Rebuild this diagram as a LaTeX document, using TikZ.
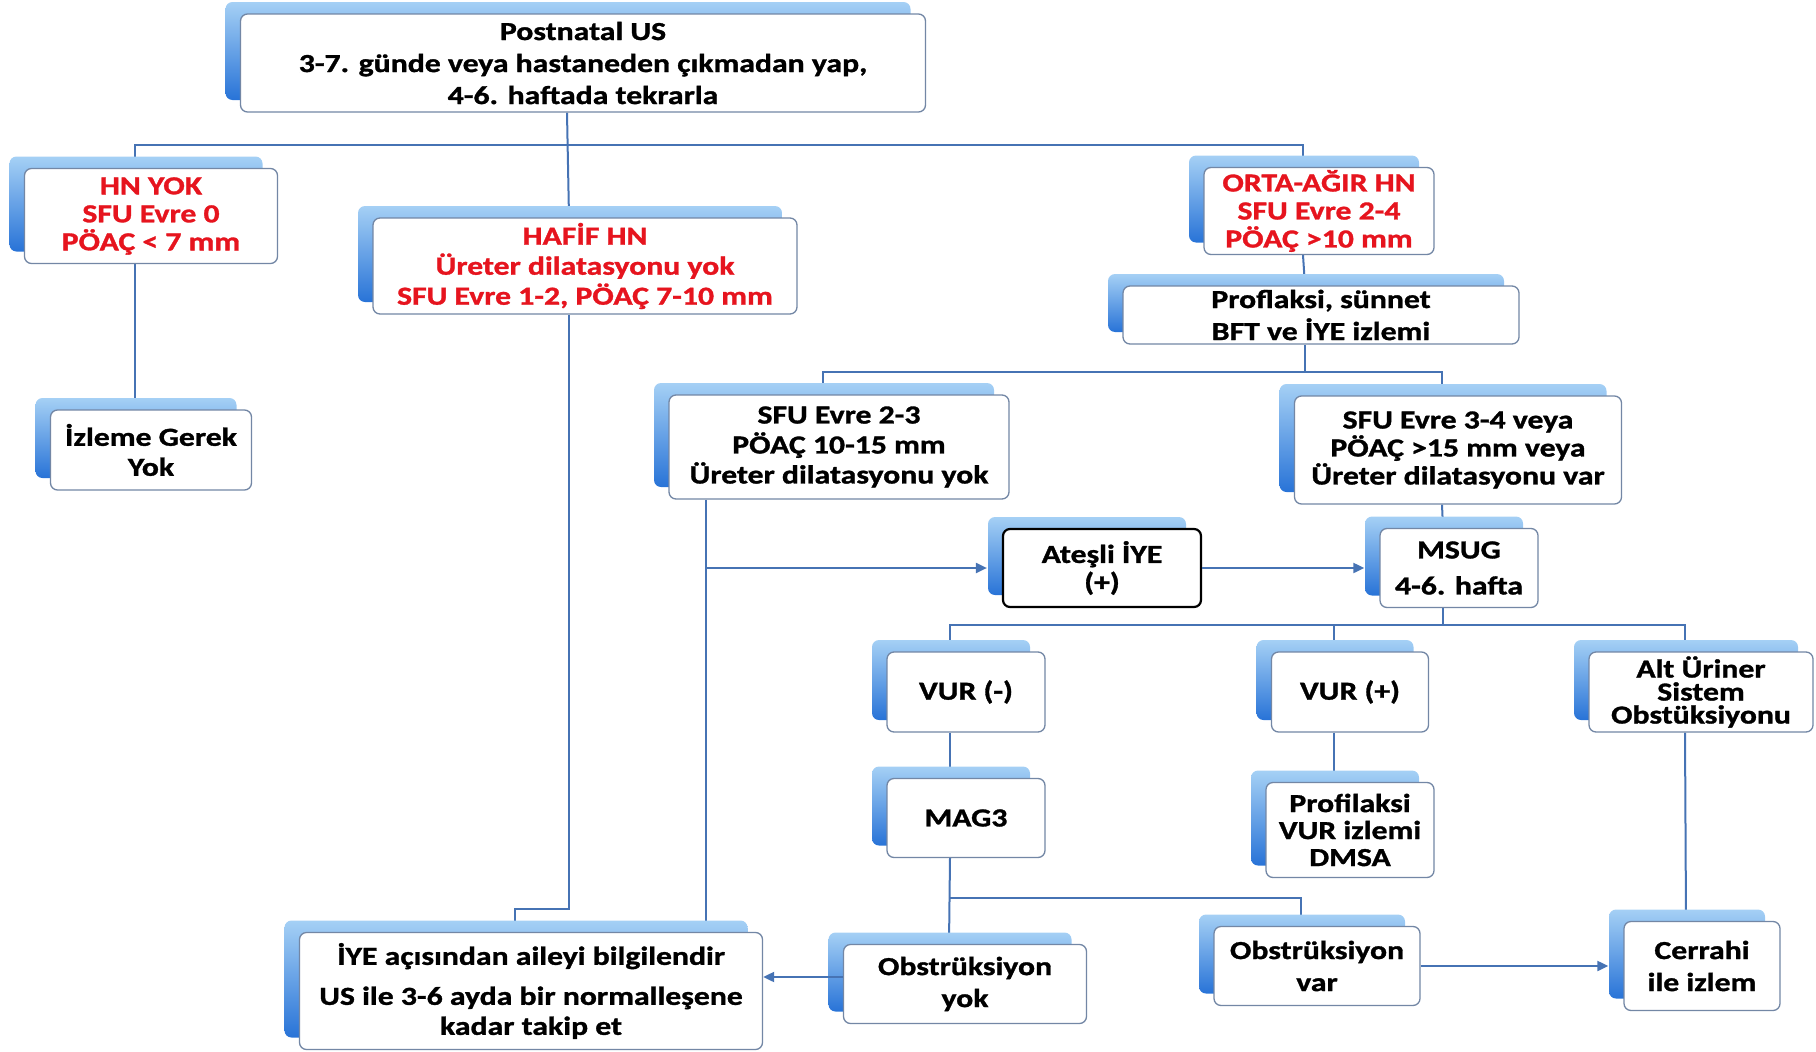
\documentclass[tikz,border=0pt]{standalone}
\usepackage{fontspec}
\setmainfont{Carlito}[FakeStretch=1.22,BoldFeatures={FakeBold=1.2}]
\usetikzlibrary{arrows.meta,shadows,backgrounds}
\definecolor{linkblue}{RGB}{70,115,180}
\definecolor{boxline}{RGB}{115,135,165}
\definecolor{tabtop}{RGB}{165,208,245}
\definecolor{tabbot}{RGB}{40,115,215}
\definecolor{hnred}{RGB}{230,20,30}

\tikzset{
  box/.style={draw=boxline, line width=1.3pt, fill=white, rounded corners=7pt,
    align=center, inner sep=0pt, font=\bfseries\fontsize{26}{28}\selectfont,
    general shadow={shadow xshift=-15pt, shadow yshift=12pt,
      top color=tabtop, bottom color=tabbot}},
  redbox/.style={box, text=hnred},
  blackbox/.style={box, draw=black, line width=2.2pt},
  sz/.style 2 args={minimum width=#1pt, minimum height=#2pt},
  link/.style={draw=linkblue, line width=2pt},
  arr/.style={link, -{Triangle[length=11pt,width=10pt]}},
}

\begin{document}
\begin{tikzpicture}[x=1pt,y=-1pt]
  \useasboundingbox (0,0) rectangle (1816,1052);

  \node[box,sz={685}{98},font=\bfseries\fontsize{26}{32}\selectfont] (post) at (583,63)
    {Postnatal US\\3-7. günde veya hastaneden çıkmadan yap,\\4-6. haftada tekrarla};
  \node[redbox,sz={253}{95}] (hnyok) at (151,216) {HN YOK\\SFU Evre 0\\PÖAÇ < 7 mm};
  \node[redbox,sz={424}{96},font=\bfseries\fontsize{26}{30}\selectfont] (hafif) at (585,266)
    {HAFİF HN\\Üreter dilatasyonu yok\\SFU Evre 1-2, PÖAÇ 7-10 mm};
  \node[redbox,sz={230}{87}] (orta) at (1319,211) {ORTA-AĞIR HN\\SFU Evre 2-4\\PÖAÇ >10 mm};
  \node[box,sz={396}{58},font=\bfseries\fontsize{26}{32}\selectfont] (prof) at (1321,315)
    {Proflaksi, sünnet\\BFT ve İYE izlemi};
  \node[box,sz={201}{80},font=\bfseries\fontsize{26}{30}\selectfont] (izleme) at (151,450)
    {İzleme Gerek\\Yok};
  \node[box,sz={340}{104},font=\bfseries\fontsize{26}{30}\selectfont] (sfu23) at (839,447)
    {SFU Evre 2-3\\PÖAÇ 10-15 mm\\Üreter dilatasyonu yok};
  \node[box,sz={327}{108},font=\bfseries\fontsize{26}{28}\selectfont] (sfu34) at (1458,450)
    {SFU Evre 3-4 veya\\PÖAÇ >15 mm veya\\Üreter dilatasyonu var};
  \node[blackbox,sz={198}{78}] (atesli) at (1102,568) {Ateşli İYE\\(+)};
  \node[box,sz={158}{79},font=\bfseries\fontsize{26}{36}\selectfont] (msug) at (1459,568)
    {MSUG\\4-6. hafta};
  \node[box,sz={158}{80}] (vurneg) at (966,692) {VUR (-)};
  \node[box,sz={157}{80}] (vurpos) at (1350,692) {VUR (+)};
  \node[box,sz={224}{80},font=\bfseries\fontsize{26}{23}\selectfont] (alt) at (1701,692)
    {Alt Üriner\\Sistem\\Obstüksiyonu};
  \node[box,sz={158}{79}] (mag3) at (966,818) {MAG3};
  \node[box,sz={168}{95},font=\bfseries\fontsize{26}{27}\selectfont] (profil) at (1350,830)
    {Profilaksi\\VUR izlemi\\DMSA};
  \node[box,sz={463}{117}] (iye) at (531,991)
    {İYE açısından aileyi bilgilendir\\[12pt]US ile 3-6 ayda bir normalleşene\\[2pt]kadar takip et};
  \node[box,sz={243}{79},font=\bfseries\fontsize{26}{32}\selectfont] (obsyok) at (965,984)
    {Obstrüksiyon\\yok};
  \node[box,sz={206}{79},font=\bfseries\fontsize{26}{32}\selectfont] (obsvar) at (1317,966)
    {Obstrüksiyon\\var};
  \node[box,sz={156}{89},font=\bfseries\fontsize{26}{32}\selectfont] (cerrahi) at (1702,966)
    {Cerrahi\\ile izlem};

  \begin{scope}[on background layer]
    \draw[link] ([xshift=-16pt]hnyok.north) |- ([xshift=-16pt,yshift=-32pt]post.south)
      -| ([xshift=-16pt]orta.north);
    \draw[link] ([xshift=-16pt]post.south) -- ([xshift=-16pt]hafif.north);
    \draw[link] ([xshift=-16pt]hnyok.south) -- ([xshift=-16pt]izleme.north);
    \draw[link] ([xshift=-16pt]orta.south) -- ([xshift=-16pt]prof.north);
    \draw[link] ([xshift=-16pt]prof.south) -- ([xshift=-16pt,yshift=-27pt]prof.south);
    \draw[link] ([xshift=-16pt]sfu23.north) |- ([xshift=-16pt,yshift=-27pt]prof.south)
      -| ([xshift=-16pt]sfu34.north);
    \draw[link] ([xshift=-16pt]sfu34.south) -- ([xshift=-16pt]msug.north);
    \draw[link] ([xshift=-16pt]msug.south) -- ([xshift=-16pt,yshift=-17pt]msug.south);
    \draw[link] ([xshift=-16pt]vurneg.north) |- ([xshift=-16pt,yshift=-17pt]msug.south)
      -| ([xshift=-16pt]alt.north);
    \draw[link] ([xshift=-16pt]vurpos.north) -- ++(0,-26);
    \draw[link] ([xshift=-16pt]vurneg.south) -- ([xshift=-16pt]mag3.north);
    \draw[link] ([xshift=-16pt]vurpos.south) -- ([xshift=-16pt]profil.north);
    \draw[link] ([xshift=-16pt]alt.south) -- ([xshift=-16pt]cerrahi.north);
    \draw[link] ([xshift=-16pt]mag3.south) -- ([xshift=-16pt]obsyok.north);
    \draw[link] ([xshift=-16pt,yshift=-40pt]mag3.south) -| ([xshift=-16pt]obsvar.north);
    \draw[link] ([xshift=-16pt]hafif.south) |- ([xshift=-16pt,yshift=23pt]iye.north)
      -- ([xshift=-16pt]iye.north);
    \draw[link] ([xshift=-133pt]sfu23.south) coordinate (s1) -- (s1 |- iye.north);
  \end{scope}

  \draw[arr] (s1 |- atesli) -- ([xshift=-15pt]atesli.west);
  \draw[arr] (atesli.east) -- ([xshift=-15pt]msug.west);
  \draw[arr] ([yshift=7pt]obsyok.west) -- ([yshift=7pt]obsyok.west -| iye.east);
  \draw[arr] (obsvar.east) -- ([xshift=-15pt]cerrahi.west);
\end{tikzpicture}
\end{document}
